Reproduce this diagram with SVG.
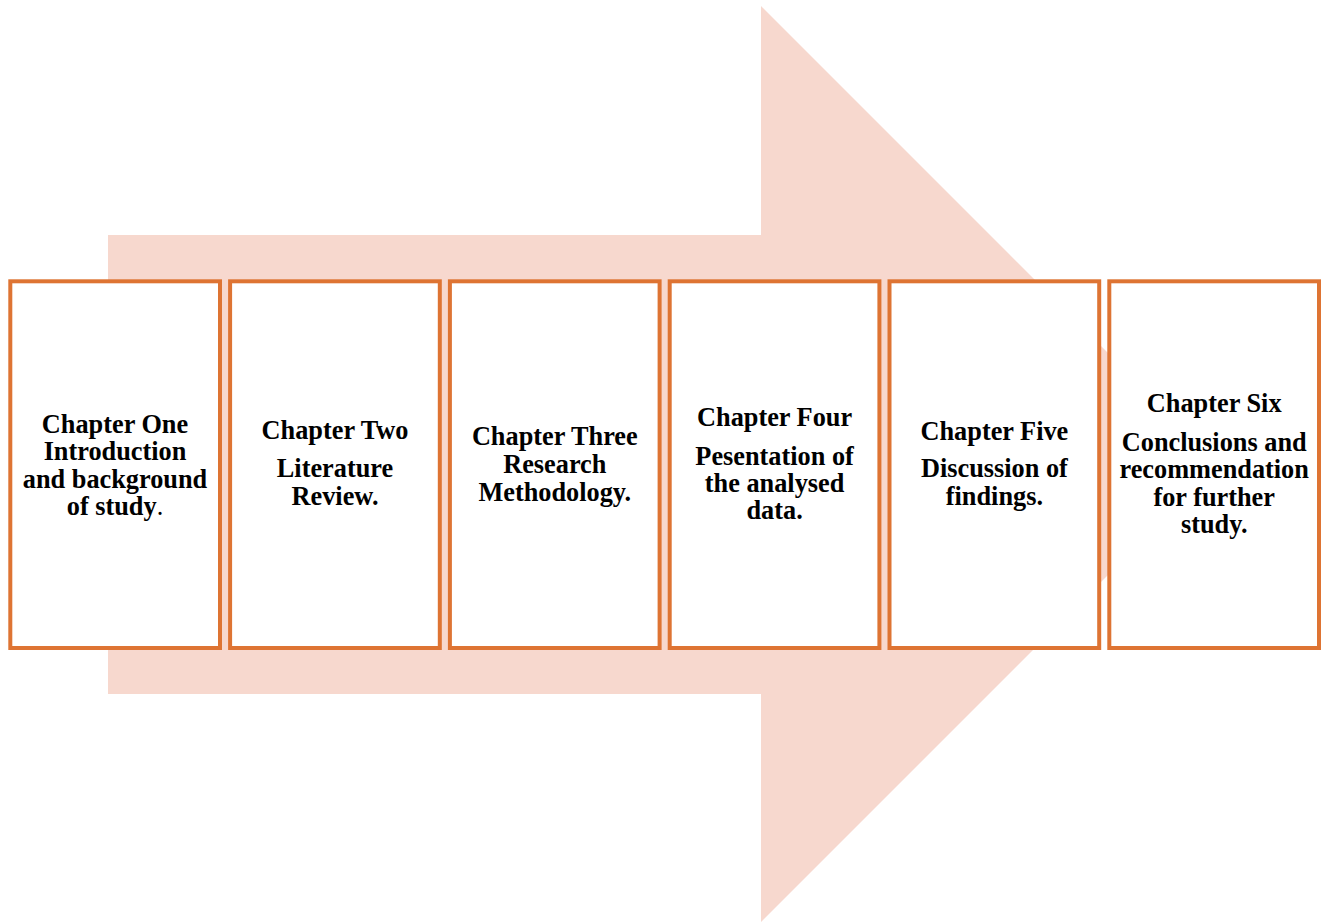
<svg xmlns="http://www.w3.org/2000/svg" width="1327" height="922" viewBox="0 0 1327 922">
<style>
.box{fill:#FFFFFF;stroke:#DE7433;stroke-width:4}
.t{font-family:"Liberation Serif","Times New Roman",serif;font-weight:bold;font-size:26.3px;fill:#000;text-anchor:middle}
</style>
<rect width="1327" height="922" fill="#FFFFFF"/>
<g id="arrow">
<polygon points="108,235 761,235 761,6 1219,464 761,922 761,694 108,694" fill="#F7D8CE"/>
</g>
<g id="connectors"></g>
<g id="node1">
<rect class="box" x="10.3" y="281.3" width="209.7" height="366.7"/>
<text class="t" x="115" y="432.7">Chapter One</text>
<text class="t" x="115" y="460">Introduction</text>
<text class="t" x="115" y="487.5">and background</text>
<text class="t" x="115" y="515">of study<tspan font-weight="normal">.</tspan></text>
</g>
<g id="node2">
<rect class="box" x="230.1" y="281.3" width="209.7" height="366.7"/>
<text class="t" x="335" y="439.3">Chapter Two</text>
<text class="t" x="335" y="477.3">Literature</text>
<text class="t" x="335" y="505">Review.</text>
</g>
<g id="node3">
<rect class="box" x="449.9" y="281.3" width="209.7" height="366.7"/>
<text class="t" x="554.8" y="445">Chapter Three</text>
<text class="t" x="554.8" y="472.7">Research</text>
<text class="t" x="554.8" y="500.7">Methodology.</text>
</g>
<g id="node4">
<rect class="box" x="669.7" y="281.3" width="209.7" height="366.7"/>
<text class="t" x="774.6" y="426">Chapter Four</text>
<text class="t" x="774.6" y="465">Pesentation of</text>
<text class="t" x="774.6" y="492">the analysed</text>
<text class="t" x="774.6" y="519.3">data.</text>
</g>
<g id="node5">
<rect class="box" x="889.5" y="281.3" width="209.7" height="366.7"/>
<text class="t" x="994.4" y="440">Chapter Five</text>
<text class="t" x="994.4" y="477.3">Discussion of</text>
<text class="t" x="994.4" y="505">findings.</text>
</g>
<g id="node6">
<rect class="box" x="1109.3" y="281.3" width="209.7" height="366.7"/>
<text class="t" x="1214.2" y="411.7">Chapter Six</text>
<text class="t" x="1214.2" y="451">Conclusions and</text>
<text class="t" x="1214.2" y="478">recommendation</text>
<text class="t" x="1214.2" y="506">for further</text>
<text class="t" x="1214.2" y="533.3">study.</text>
</g>
</svg>
